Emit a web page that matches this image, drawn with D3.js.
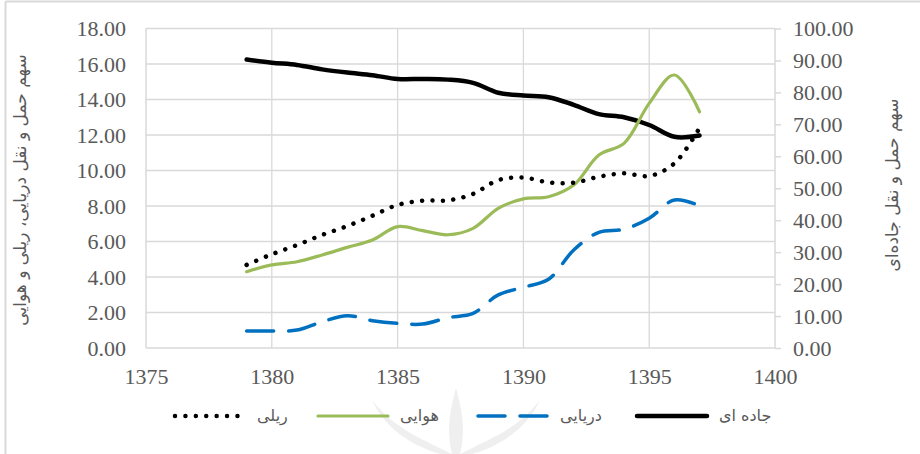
<!DOCTYPE html>
<html>
<head>
<meta charset="utf-8">
<script src="https://cdn.jsdelivr.net/npm/d3@7"></script>
<style>
  html, body { margin: 0; padding: 0; background: #fff; }
  svg { display: block; }
  .tick-label { font-family: "Liberation Serif", "DejaVu Serif", serif; font-size: 22px; fill: #595959; }
  .fa { font-family: "DejaVu Sans", sans-serif; fill: #595959; }
</style>
</head>
<body>
<svg id="chart" width="920" height="454"></svg>
<script>
// ---- data ----
const years = [1379,1380,1381,1382,1383,1384,1385,1386,1387,1388,1389,1390,1391,1392,1393,1394,1395,1396,1397];
const rail  = [4.68,5.28,5.80,6.37,6.87,7.45,8.06,8.30,8.32,8.68,9.46,9.60,9.33,9.31,9.65,9.84,9.69,10.40,12.40];
const air   = [4.30,4.68,4.86,5.24,5.67,6.08,6.84,6.61,6.38,6.74,7.87,8.40,8.52,9.18,10.87,11.53,13.78,15.38,13.31];
const sea   = [0.96,0.96,1.01,1.48,1.82,1.54,1.39,1.35,1.71,1.95,2.99,3.42,3.87,5.52,6.52,6.69,7.31,8.34,8.02];
const road  = [90.3,89.3,88.6,87.2,86.2,85.4,84.2,84.2,84.0,83.0,79.9,79.0,78.5,76.1,73.2,72.2,69.8,66.1,66.5];
const xTicks = [1375,1380,1385,1390,1395,1400];
const leftTicks = [0,2,4,6,8,10,12,14,16,18];
const rightTicks = [0,10,20,30,40,50,60,70,80,90,100];
const leftTitle = "سهم حمل و نقل دریایی، ریلی و هوایی";
const rightTitle = "سهم حمل و نقل جاده‌ای";
const legendLabels = ["ریلی", "هوایی", "دریایی", "جاده ای"];

// ---- layout ----
const svg = d3.select("#chart");
const L = 146, R = 775, T = 28.5, B = 348;
const x = d3.scaleLinear().domain([1375,1400]).range([L,R]);
const yL = d3.scaleLinear().domain([0,18]).range([B,T]);
const yR = d3.scaleLinear().domain([0,100]).range([B,T]);
const grid = "#d9d9d9";

// outer border (top & left visible)
svg.append("line").attr("x1",5.5).attr("x2",920).attr("y1",1.5).attr("y2",1.5).attr("stroke",grid).attr("stroke-width",2);
svg.append("line").attr("x1",5.5).attr("x2",5.5).attr("y1",1.5).attr("y2",454).attr("stroke",grid).attr("stroke-width",2);

// watermark (faint)
const wm = svg.append("g").attr("fill","#efefef");
wm.append("path").attr("d","M372,400 C395,430 425,440 452,454 L440,454 C410,445 385,428 372,400 Z");
wm.append("path").attr("d","M540,400 C517,430 487,440 460,454 L472,454 C502,445 527,428 540,400 Z");
wm.append("path").attr("d","M456,388 C450,410 446,430 452,454 L460,454 C466,430 462,410 456,388 Z");

// horizontal gridlines
svg.append("g").selectAll("line").data(leftTicks.filter(d=>d>0)).join("line")
  .attr("x1",L).attr("x2",R).attr("y1",d=>yL(d)).attr("y2",d=>yL(d))
  .attr("stroke",grid).attr("stroke-width",1.3);
// vertical gridlines
svg.append("g").selectAll("line").data(xTicks.filter(d=>d>1375 && d<1400)).join("line")
  .attr("x1",d=>x(d)).attr("x2",d=>x(d)).attr("y1",T).attr("y2",B)
  .attr("stroke",grid).attr("stroke-width",1.3);

// axes
const axL = svg.append("g").attr("transform",`translate(${L},0)`)
  .call(d3.axisLeft(yL).tickValues(leftTicks).tickSize(0).tickPadding(20).tickFormat(d3.format(".2f")));
const axR = svg.append("g").attr("transform",`translate(${R},0)`)
  .call(d3.axisRight(yR).tickValues(rightTicks).tickSize(6).tickPadding(12).tickFormat(d3.format(".2f")));
const axB = svg.append("g").attr("transform",`translate(0,${B})`)
  .call(d3.axisBottom(x).tickValues(xTicks).tickSize(0).tickPadding(20).tickFormat(d3.format("d")));
[axL, axR, axB].forEach(a => {
  a.select(".domain").attr("stroke",grid).attr("stroke-width",1.5);
  a.selectAll(".tick line").attr("stroke",grid).attr("stroke-width",1.5);
  a.selectAll(".tick text").attr("class","tick-label").attr("font-size",null).attr("font-family",null);
});
axL.select(".domain").attr("d",`M0,${B}V${T}`);
axR.select(".domain").attr("d",`M0,${B}V${T}`);
axB.select(".domain").attr("d",`M${L},0H${R}`);
axB.selectAll(".tick text").attr("dy","0.71em");

// axis titles
svg.append("text").attr("class","fa").attr("font-size",17)
  .attr("transform",`translate(26,190) rotate(-90)`).attr("text-anchor","middle")
  .attr("direction","rtl").text(leftTitle);
svg.append("text").attr("class","fa").attr("font-size",17)
  .attr("transform",`translate(898,185) rotate(-90)`).attr("text-anchor","middle")
  .attr("direction","rtl").text(rightTitle);

// series
const series = [
  {vals: rail, y: yL, color:"#000000", width:4.5, dash:"0.01 10.4", cap:"round"},
  {vals: air,  y: yL, color:"#9bbb59", width:3.2, dash:null, cap:"round"},
  {vals: sea,  y: yL, color:"#0070c0", width:3.5, dash:"27 15", cap:"round"},
  {vals: road, y: yR, color:"#000000", width:4.5, dash:null, cap:"round"}
];
const plot = svg.append("g");
series.slice().reverse().forEach(s => {
  const line = d3.line().x((d,i)=>x(years[i])).y(d=>s.y(d)).curve(d3.curveCatmullRom.alpha(0.5));
  plot.append("path").datum(s.vals).attr("d",line)
    .attr("fill","none").attr("stroke",s.color).attr("stroke-width",s.width)
    .attr("stroke-linecap",s.cap).attr("stroke-linejoin","round")
    .attr("stroke-dasharray",s.dash);
});

// legend
const legY = 416;
const legStart = [175, 318, 478, 637];
const legend = svg.append("g");
series.forEach((s,i) => {
  const x0 = legStart[i];
  legend.append("line").attr("x1",x0).attr("x2",x0+70).attr("y1",legY).attr("y2",legY)
    .attr("stroke",s.color).attr("stroke-width",s.width).attr("stroke-linecap",s.cap)
    .attr("stroke-dasharray",s.dash);
  legend.append("text").attr("class","fa").attr("font-size",16)
    .attr("x",x0+82).attr("y",legY+5).attr("text-anchor","start")
    .text(legendLabels[i]);
});
</script>
</body>
</html>
